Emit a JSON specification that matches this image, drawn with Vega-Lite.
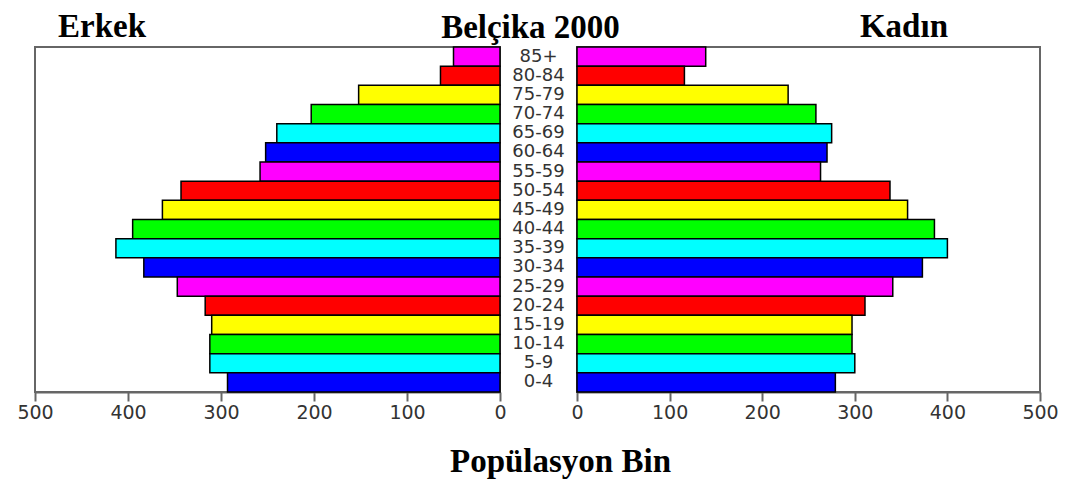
{
  "$schema": "https://vega.github.io/schema/vega-lite/v6.json",
  "background": "white",
  "padding": {"left": 15, "top": 10, "right": 10, "bottom": 5},
  "datasets": {
    "pop": [
      {"age": "85+", "male": 50, "female": 139},
      {"age": "80-84", "male": 64, "female": 116},
      {"age": "75-79", "male": 152, "female": 228},
      {"age": "70-74", "male": 203, "female": 258},
      {"age": "65-69", "male": 240, "female": 275},
      {"age": "60-64", "male": 252, "female": 270},
      {"age": "55-59", "male": 258, "female": 263},
      {"age": "50-54", "male": 343, "female": 338},
      {"age": "45-49", "male": 363, "female": 357},
      {"age": "40-44", "male": 395, "female": 386},
      {"age": "35-39", "male": 413, "female": 400},
      {"age": "30-34", "male": 383, "female": 373},
      {"age": "25-29", "male": 347, "female": 341},
      {"age": "20-24", "male": 317, "female": 311},
      {"age": "15-19", "male": 310, "female": 297},
      {"age": "10-14", "male": 312, "female": 297},
      {"age": "5-9", "male": 312, "female": 300},
      {"age": "0-4", "male": 293, "female": 279}
    ]
  },
  "title": {
    "text": "Popülasyon Bin",
    "orient": "bottom",
    "anchor": "middle",
    "dx": 23,
    "offset": 23
  },
  "spacing": 0,
  "bounds": "flush",
  "hconcat": [
    {
      "width": 465,
      "height": 345,
      "title": {"text": "Erkek", "anchor": "start", "frame": "group", "dx": 23},
      "data": {"name": "pop"},
      "mark": {"type": "bar", "stroke": "black", "strokeWidth": 1.5},
      "encoding": {
        "y": {"field": "age", "type": "nominal", "sort": null, "axis": null,
              "scale": {"paddingInner": 0, "paddingOuter": 0}},
        "x": {"field": "male", "type": "quantitative",
              "scale": {"domain": [0, 500], "reverse": true, "nice": false},
              "axis": {"values": [0, 100, 200, 300, 400, 500], "title": null}},
        "color": {"field": "age", "type": "nominal", "legend": null,
                  "scale": {
                    "domain": ["85+", "80-84", "75-79", "70-74", "65-69", "60-64", "55-59", "50-54", "45-49", "40-44", "35-39", "30-34", "25-29", "20-24", "15-19", "10-14", "5-9", "0-4"],
                    "range": ["#ff00ff", "#ff0000", "#ffff00", "#00ff00", "#00ffff", "#0000ff", "#ff00ff", "#ff0000", "#ffff00", "#00ff00", "#00ffff", "#0000ff", "#ff00ff", "#ff0000", "#ffff00", "#00ff00", "#00ffff", "#0000ff"]
                  }}
      }
    },
    {
      "width": 77,
      "height": 345,
      "view": {"stroke": null},
      "title": {"text": "Belçika 2000", "dx": -8},
      "data": {"name": "pop"},
      "mark": {"type": "text", "font": "DejaVu Sans", "fontSize": 18, "color": "#333333"},
      "encoding": {
        "y": {"field": "age", "type": "nominal", "sort": null, "axis": null,
              "scale": {"paddingInner": 0, "paddingOuter": 0}},
        "text": {"field": "age", "type": "nominal"}
      }
    },
    {
      "width": 463,
      "height": 345,
      "title": {"text": "Kadın", "anchor": "end", "frame": "group", "dx": -92},
      "data": {"name": "pop"},
      "mark": {"type": "bar", "stroke": "black", "strokeWidth": 1.5},
      "encoding": {
        "y": {"field": "age", "type": "nominal", "sort": null, "axis": null,
              "scale": {"paddingInner": 0, "paddingOuter": 0}},
        "x": {"field": "female", "type": "quantitative",
              "scale": {"domain": [0, 500], "nice": false},
              "axis": {"values": [0, 100, 200, 300, 400, 500], "title": null}},
        "color": {"field": "age", "type": "nominal", "legend": null,
                  "scale": {
                    "domain": ["85+", "80-84", "75-79", "70-74", "65-69", "60-64", "55-59", "50-54", "45-49", "40-44", "35-39", "30-34", "25-29", "20-24", "15-19", "10-14", "5-9", "0-4"],
                    "range": ["#ff00ff", "#ff0000", "#ffff00", "#00ff00", "#00ffff", "#0000ff", "#ff00ff", "#ff0000", "#ffff00", "#00ff00", "#00ffff", "#0000ff", "#ff00ff", "#ff0000", "#ffff00", "#00ff00", "#00ffff", "#0000ff"]
                  }}
      }
    }
  ],
  "config": {
    "view": {"stroke": "#666666", "strokeWidth": 2},
    "axis": {
      "grid": false,
      "domainColor": "#666666",
      "domainWidth": 2,
      "tickColor": "#666666",
      "tickWidth": 2,
      "tickSize": 9,
      "labelFont": "DejaVu Sans",
      "labelFontSize": 19,
      "labelColor": "#333333",
      "labelPadding": 2,
      "labelFlush": false
    },
    "title": {
      "font": "Liberation Serif",
      "fontSize": 33,
      "fontWeight": "bold",
      "color": "#000000",
      "offset": 2
    }
  }
}
